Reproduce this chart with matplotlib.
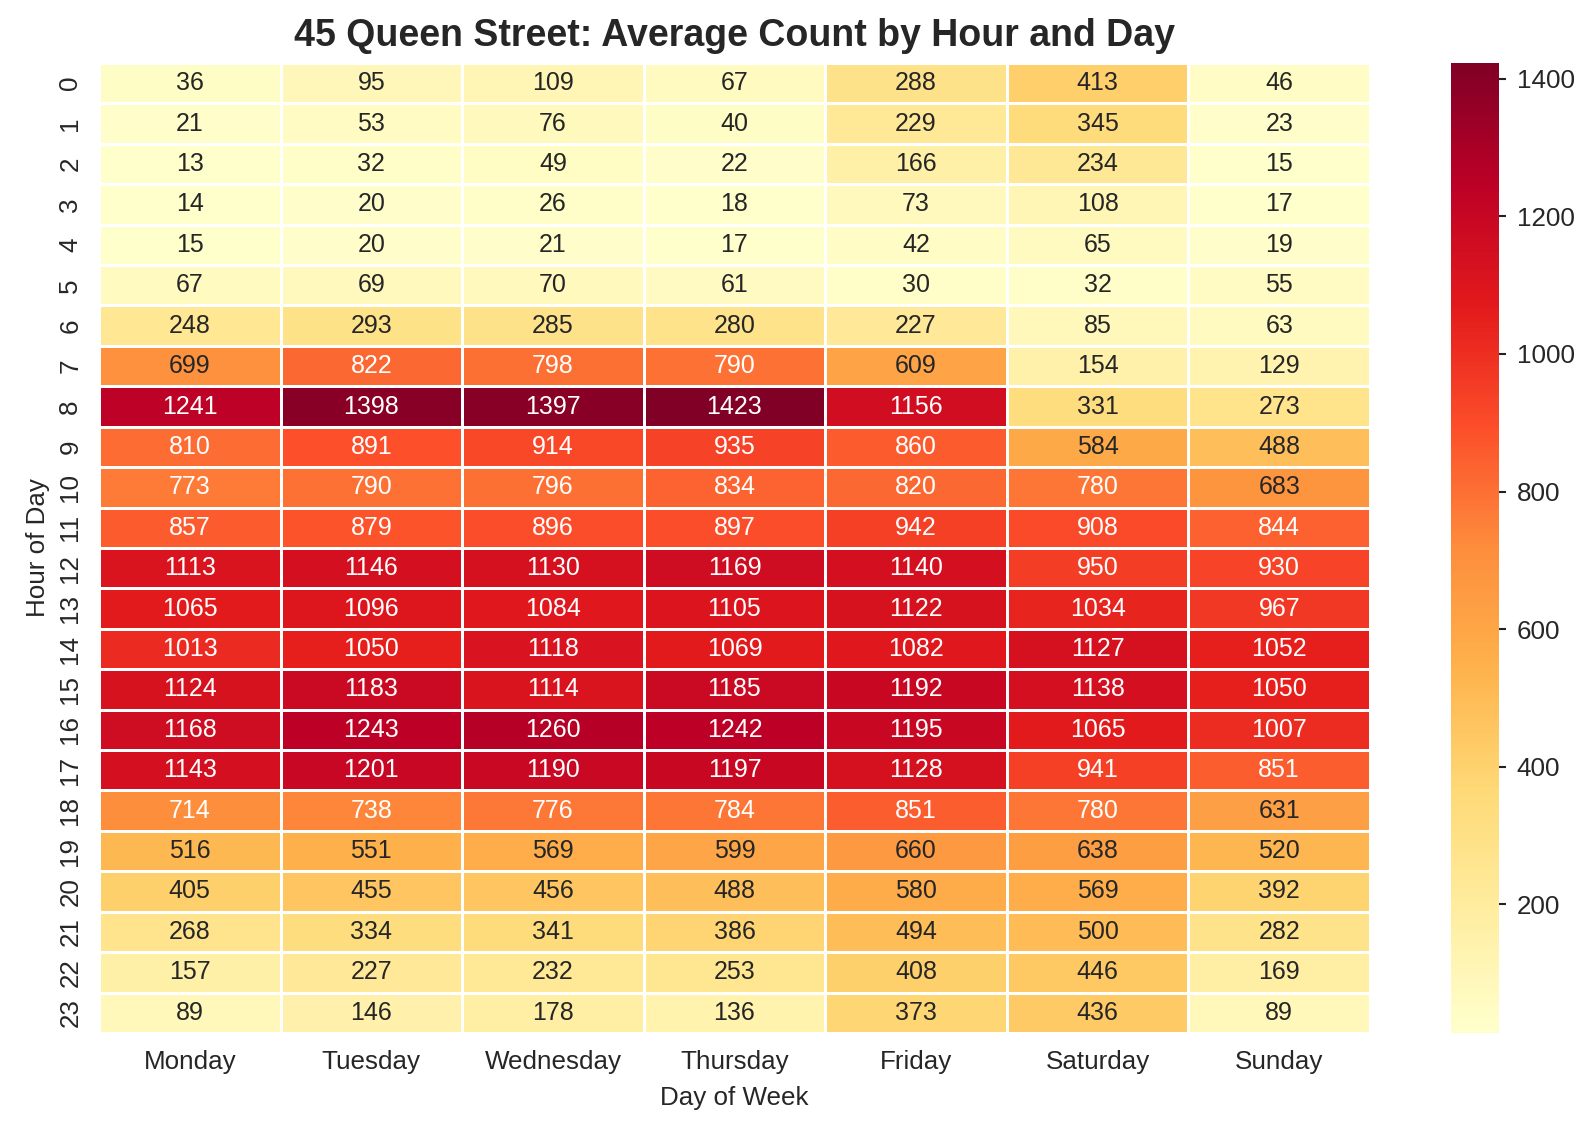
import matplotlib
matplotlib.use("Agg")
import matplotlib.pyplot as plt
import numpy as np
import pandas as pd
import seaborn as sns

days = ["Monday", "Tuesday", "Wednesday", "Thursday", "Friday", "Saturday", "Sunday"]
hours = list(range(24))

monday = [36, 21, 13, 14, 15, 67, 248, 699, 1241, 810, 773, 857, 1113, 1065, 1013, 1124, 1168, 1143, 714, 516, 405, 268, 157, 89]
tuesday = [95, 53, 32, 20, 20, 69, 293, 822, 1398, 891, 790, 879, 1146, 1096, 1050, 1183, 1243, 1201, 738, 551, 455, 334, 227, 146]
wednesday = [109, 76, 49, 26, 21, 70, 285, 798, 1397, 914, 796, 896, 1130, 1084, 1118, 1114, 1260, 1190, 776, 569, 456, 341, 232, 178]
thursday = [67, 40, 22, 18, 17, 61, 280, 790, 1423, 935, 834, 897, 1169, 1105, 1069, 1185, 1242, 1197, 784, 599, 488, 386, 253, 136]
friday = [288, 229, 166, 73, 42, 30, 227, 609, 1156, 860, 820, 942, 1140, 1122, 1082, 1192, 1195, 1128, 851, 660, 580, 494, 408, 373]
saturday = [413, 345, 234, 108, 65, 32, 85, 154, 331, 584, 780, 908, 950, 1034, 1127, 1138, 1065, 941, 780, 638, 569, 500, 446, 436]
sunday = [46, 23, 15, 17, 19, 55, 63, 129, 273, 488, 683, 844, 930, 967, 1052, 1050, 1007, 851, 631, 520, 392, 282, 169, 89]

table = pd.DataFrame(
    {"Monday": monday, "Tuesday": tuesday, "Wednesday": wednesday,
     "Thursday": thursday, "Friday": friday, "Saturday": saturday,
     "Sunday": sunday},
    index=hours)[days]

sns.set_theme(style="white")
plt.rcParams['font.family'] = ['Liberation Sans', 'DejaVu Sans']

fig = plt.figure(figsize=(10.64, 7.54), dpi=150)
ax = fig.add_axes([0.062, 0.0867, 0.7964, 0.8576])
cax = fig.add_axes([0.9091, 0.0867, 0.0301, 0.8576])

sns.heatmap(table, ax=ax, cbar_ax=cax, cmap="YlOrRd", annot=True, fmt="d",
            linewidths=1.4, linecolor="white",
            annot_kws={"size": 12})

ax.set_title("45 Queen Street: Average Count by Hour and Day",
             fontsize=18, fontweight="bold", pad=8)
ax.set_xlabel("Day of Week", fontsize=12.5, labelpad=6)
ax.set_ylabel("Hour of Day", fontsize=12.5, labelpad=4)
ax.tick_params(axis="both", labelsize=12.5, length=0, pad=8)
cax.tick_params(axis="y", labelsize=12.5, length=3.5, width=1.0,
                color="#222222", pad=5)

fig.savefig("out.png", dpi=150)
